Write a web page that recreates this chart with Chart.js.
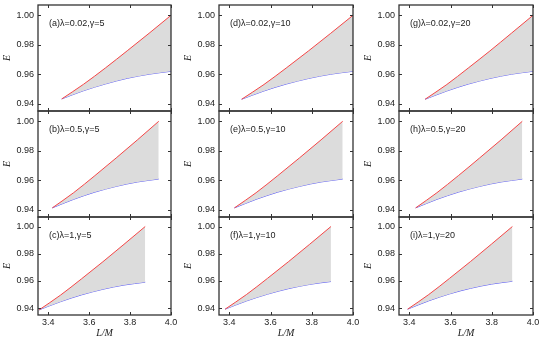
<!DOCTYPE html>
<html><head><meta charset="utf-8">
<script src="https://cdn.jsdelivr.net/npm/chart.js@4.4.1/dist/chart.umd.min.js"></script>
<style>
html,body{margin:0;padding:0;background:#fff;width:550px;height:345px;overflow:hidden;position:relative}
canvas{position:absolute}
</style></head><body>
<script>
// ---- data ----
const xTickVals = [3.4, 3.6, 3.8, 4.0];
const yTickVals = [0.94, 0.96, 0.98, 1.00];
const panelLabels = ['(a)λ=0.02,γ=5','(b)λ=0.5,γ=5','(c)λ=1,γ=5',
                     '(d)λ=0.02,γ=10','(e)λ=0.5,γ=10','(f)λ=1,γ=10',
                     '(g)λ=0.02,γ=20','(h)λ=0.5,γ=20','(i)λ=1,γ=20'];

const xA = [3.466, 3.573, 3.680, 3.786, 3.893, 4.000];
const redA = [0.9432, 0.9532, 0.9643, 0.9759, 0.9878, 1.0000];
const blueA = [0.9432, 0.9488, 0.9534, 0.9572, 0.9600, 0.9620];

const xB = [3.420, 3.524, 3.628, 3.732, 3.836, 3.940];
const redB = [0.9412, 0.9515, 0.9631, 0.9751, 0.9874, 1.0000];
const blueB = [0.9412, 0.9470, 0.9519, 0.9558, 0.9588, 0.9608];

const xC = [3.356, 3.460, 3.563, 3.667, 3.770, 3.874];
const redC = [0.9388, 0.9496, 0.9616, 0.9741, 0.9869, 1.0000];
const blueC = [0.9388, 0.9448, 0.9498, 0.9539, 0.9570, 0.9591];

const xD = [3.460, 3.568, 3.676, 3.784, 3.892, 4.000];
const redD = [0.9430, 0.9530, 0.9642, 0.9758, 0.9878, 1.0000];
const blueD = [0.9430, 0.9486, 0.9533, 0.9571, 0.9600, 0.9620];

const xE = [3.425, 3.530, 3.635, 3.740, 3.845, 3.950];
const redE = [0.9412, 0.9515, 0.9631, 0.9751, 0.9874, 1.0000];
const blueE = [0.9412, 0.9470, 0.9519, 0.9558, 0.9588, 0.9608];

const xF = [3.380, 3.483, 3.585, 3.688, 3.790, 3.893];
const redF = [0.9393, 0.9500, 0.9619, 0.9743, 0.9870, 1.0000];
const blueF = [0.9393, 0.9453, 0.9503, 0.9544, 0.9575, 0.9596];

const xG = [3.477, 3.582, 3.686, 3.791, 3.895, 4.000];
const redG = [0.9430, 0.9530, 0.9642, 0.9758, 0.9878, 1.0000];
const blueG = [0.9430, 0.9486, 0.9533, 0.9571, 0.9600, 0.9620];

const xH = [3.431, 3.534, 3.638, 3.741, 3.845, 3.948];
const redH = [0.9412, 0.9515, 0.9631, 0.9751, 0.9874, 1.0000];
const blueH = [0.9412, 0.9470, 0.9519, 0.9558, 0.9588, 0.9608];

const xI = [3.392, 3.494, 3.595, 3.697, 3.798, 3.900];
const redI = [0.9393, 0.9500, 0.9619, 0.9743, 0.9870, 1.0000];
const blueI = [0.9393, 0.9454, 0.9505, 0.9546, 0.9577, 0.9598];

// ---- layout / style ----
const panels = [
  {x:xA, red:redA, blue:blueA, col:0, row:0},
  {x:xB, red:redB, blue:blueB, col:0, row:1},
  {x:xC, red:redC, blue:blueC, col:0, row:2},
  {x:xD, red:redD, blue:blueD, col:1, row:0},
  {x:xE, red:redE, blue:blueE, col:1, row:1},
  {x:xF, red:redF, blue:blueF, col:1, row:2},
  {x:xG, red:redG, blue:blueG, col:2, row:0},
  {x:xH, red:redH, blue:blueH, col:2, row:1},
  {x:xI, red:redI, blue:blueI, col:2, row:2}
];
const colLeft = [38, 219, 399], colRight = [171, 353, 533];
const rowTop = [5, 111, 217], rowBottom = [111, 217, 315];
const PADV = 3, YW = 38, XH = 30;
const FONT = '"Liberation Sans", Arial, Helvetica, sans-serif';
const SERIF = '"Liberation Serif", "DejaVu Serif", serif';
const RED = 'rgb(245,70,70)', BLUE = 'rgb(95,95,245)', GRAY = 'rgb(220,220,220)', INK = '#222';

function makeFrame(label){
  return {
    id: 'frame',
    afterDatasetsDraw(chart){
      const {ctx, chartArea: a, scales: {x, y}} = chart;
      ctx.save();
      ctx.strokeStyle = '#333';
      ctx.lineWidth = 1;
      const L = 3;
      ctx.beginPath();
      xTickVals.forEach(v => {
        const px = Math.round(x.getPixelForValue(v)) + 0.5;
        ctx.moveTo(px, a.top); ctx.lineTo(px, a.top + L);
        ctx.moveTo(px, a.bottom); ctx.lineTo(px, a.bottom - L);
      });
      yTickVals.forEach(v => {
        const py = Math.round(y.getPixelForValue(v)) + 0.5;
        ctx.moveTo(a.left, py); ctx.lineTo(a.left + L, py);
        ctx.moveTo(a.right, py); ctx.lineTo(a.right - L, py);
      });
      ctx.stroke();
      ctx.lineWidth = 1.3;
      ctx.strokeRect(a.left, a.top, a.right - a.left, a.bottom - a.top);
      ctx.fillStyle = INK;
      ctx.font = '9px ' + FONT;
      ctx.textBaseline = 'middle';
      ctx.textAlign = 'left';
      ctx.fillText(label, a.left + 11, a.top + 18.5);
      ctx.restore();
    }
  };
}

panels.forEach((p, idx) => {
  const bottomRow = p.row === 2;
  const padR = bottomRow ? 12 : 3;
  const w = YW + (colRight[p.col] - colLeft[p.col]) + padR;
  const h = PADV + (rowBottom[p.row] - rowTop[p.row]) + (bottomRow ? XH : PADV);
  const c = document.createElement('canvas');
  c.width = w; c.height = h;
  c.style.width = w + 'px'; c.style.height = h + 'px';
  c.style.left = (colLeft[p.col] - YW) + 'px';
  c.style.top = (rowTop[p.row] - PADV) + 'px';
  document.body.appendChild(c);

  new Chart(c, {
    type: 'line',
    data: {
      datasets: [
        {data: p.x.map((v, i) => ({x: v, y: p.red[i]})), borderColor: RED, borderWidth: 1,
         pointRadius: 0, fill: '+1', backgroundColor: GRAY, cubicInterpolationMode: 'monotone'},
        {data: p.x.map((v, i) => ({x: v, y: p.blue[i]})), borderColor: BLUE, borderWidth: 1,
         pointRadius: 0, fill: false, cubicInterpolationMode: 'monotone'}
      ]
    },
    options: {
      responsive: false, animation: false, devicePixelRatio: 1,
      layout: {padding: {top: PADV, bottom: bottomRow ? 0 : PADV, left: 0, right: padR}},
      plugins: {legend: {display: false}, tooltip: {enabled: false}},
      scales: {
        x: {
          type: 'linear', min: 3.35, max: 4.0, display: bottomRow,
          grid: {display: false, drawTicks: false}, border: {display: false},
          ticks: {padding: 2, font: {size: 9, family: FONT}, color: INK, maxRotation: 0,
                  callback: v => Number(v).toFixed(1)},
          afterBuildTicks: s => { s.ticks = xTickVals.map(v => ({value: v})); },
          afterFit: s => { s.height = bottomRow ? XH : 0; s.paddingLeft = 0; s.paddingRight = 0; },
          title: {display: true, text: 'L/M', color: INK,
                  font: {family: SERIF, style: 'italic', size: 10}, padding: {top: 0, bottom: 6}}
        },
        y: {
          min: 0.935, max: 1.007,
          grid: {display: false, drawTicks: false}, border: {display: false},
          ticks: {padding: 4, font: {size: 9, family: FONT}, color: INK,
                  callback: v => Number(v).toFixed(2)},
          afterBuildTicks: s => { s.ticks = yTickVals.map(v => ({value: v})); },
          afterFit: s => { s.width = YW; s.paddingTop = 0; s.paddingBottom = 0; },
          title: {display: true, text: 'E', color: INK,
                  font: {family: SERIF, style: 'italic', size: 10}, padding: {top: 1, bottom: 0}}
        }
      }
    },
    plugins: [makeFrame(panelLabels[idx])]
  });
});
</script>
</body></html>
